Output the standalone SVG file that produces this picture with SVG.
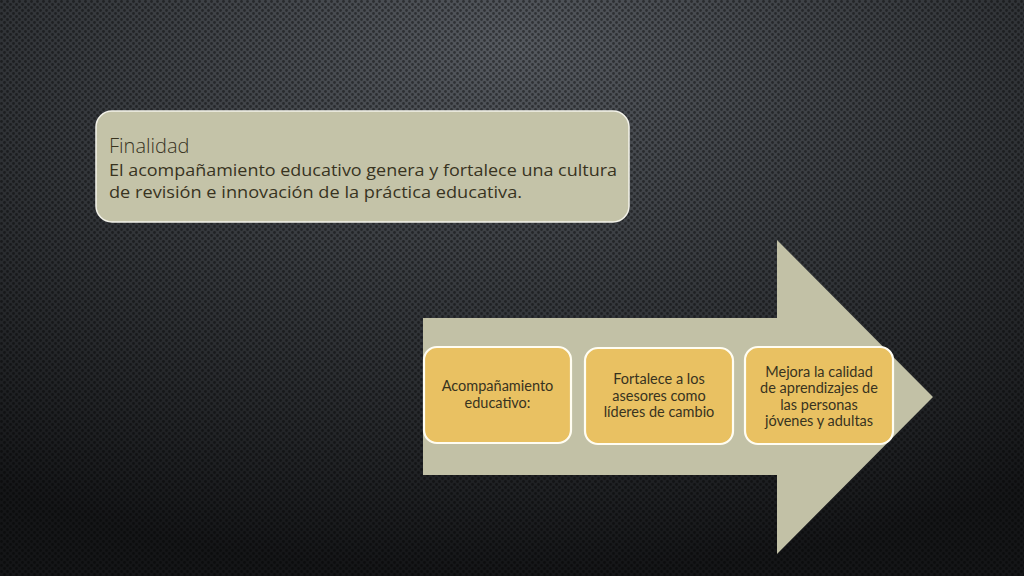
<svg xmlns="http://www.w3.org/2000/svg" width="1024" height="576" viewBox="0 0 1024 576">
<defs>
<radialGradient id="bg" cx="0.5" cy="0.1" r="0.9" fx="0.5" fy="0.08">
<stop offset="0" stop-color="#55595f"/>
<stop offset="0.5" stop-color="#34373b"/>
<stop offset="1" stop-color="#141517"/>
</radialGradient>
<pattern id="dots" width="6" height="6" patternUnits="userSpaceOnUse">
<circle cx="1.5" cy="1.5" r="1.4" fill="#000" fill-opacity="0.4"/>
<circle cx="4.5" cy="4.5" r="1.4" fill="#000" fill-opacity="0.4"/>
</pattern>
</defs>
<style>
.panel{fill:#c4c3a8;stroke:#f4f3ea;stroke-width:1.5}
.step{fill:#e9c162;stroke:#fffdf2;stroke-width:2.2}
.t{font-family:"Open Sans","Liberation Sans",sans-serif;fill:#38331f}
.st{font-family:Lato,"Open Sans",sans-serif;font-size:14.5px;text-anchor:middle}
</style>
<rect width="1024" height="576" fill="url(#bg)"/>
<rect width="1024" height="576" fill="url(#dots)"/>
<g id="finalidad">
<rect class="panel" x="96" y="111" width="533" height="111" rx="16"/>
<text class="t" x="109" y="153" font-size="20" font-weight="300" fill="#3c3c34">Finalidad</text>
<text class="t" x="109" y="176" font-size="17" font-weight="500" textLength="508" lengthAdjust="spacingAndGlyphs">El acompañamiento educativo genera y fortalece una cultura</text>
<text class="t" x="109" y="198" font-size="17" font-weight="500" textLength="413" lengthAdjust="spacingAndGlyphs">de revisión e innovación de la práctica educativa.</text>
</g>
<g id="arrow">
<path d="M423 318 H777 V240 L933 397 L777 554 V475 H423 Z" fill="#c2c1a6"/>
</g>
<g id="connectors"></g>
<g id="step1">
<rect class="step" x="424" y="347" width="147" height="96" rx="13"/>
<text class="t st" x="497.5" y="391">Acompañamiento</text>
<text class="t st" x="497.5" y="408">educativo:</text>
</g>
<g id="step2">
<rect class="step" x="585" y="348" width="148" height="96" rx="13"/>
<text class="t st" x="659" y="384">Fortalece a los</text>
<text class="t st" x="659" y="400.5">asesores como</text>
<text class="t st" x="659" y="417">líderes de cambio</text>
</g>
<g id="step3">
<rect class="step" x="745" y="347" width="148" height="97" rx="13"/>
<text class="t st" x="819" y="376.5">Mejora la calidad</text>
<text class="t st" x="819" y="393">de aprendizajes de</text>
<text class="t st" x="819" y="409.5">las personas</text>
<text class="t st" x="819" y="426">jóvenes y adultas</text>
</g>
</svg>
